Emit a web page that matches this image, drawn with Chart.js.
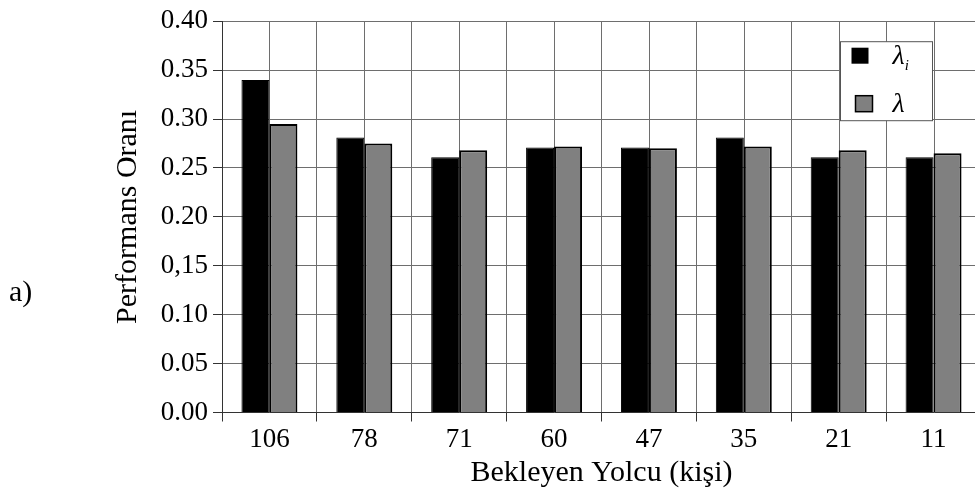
<!DOCTYPE html>
<html>
<head>
<meta charset="utf-8">
<script src="https://cdn.jsdelivr.net/npm/chart.js@4"></script>
<style>
  html, body { margin: 0; padding: 0; background: #fff; overflow: hidden; }
  #wrap { width: 975px; height: 491px; overflow: hidden; }
</style>
</head>
<body>
<div id="wrap"><canvas id="perf-chart" width="981" height="491"></canvas></div>
<script>
// waiting passengers per stop and the two performance ratios
const categories = ['106', '78', '71', '60', '47', '35', '21', '11'];
const lambdaI = [0.340, 0.281, 0.261, 0.271, 0.271, 0.281, 0.261, 0.261];
const lambdaAvg = [0.295, 0.275, 0.268, 0.272, 0.270, 0.272, 0.268, 0.265];
const yTickLabels = ['0.00', '0.05', '0.10', '0,15', '0.20', '0.25', '0.30', '0.35', '0.40'];

const xTitle = 'Bekleyen Yolcu (kişi)';
const yTitle = 'Performans Oranı';
const panelTag = 'a)';

const serif = '"Liberation Serif", "Times New Roman", serif';
const gridColor = '#6e6e6e';
const axisColor = '#333';

// extra vertical lines through the middle of every category
const centerLines = {
  id: 'centerLines',
  beforeDatasetsDraw(chart) {
    const { ctx, chartArea, scales } = chart;
    ctx.save();
    ctx.strokeStyle = gridColor;
    ctx.lineWidth = 1;
    categories.forEach((c, i) => {
      const x = Math.round(scales.x.getPixelForValue(i)) + 0.5;
      ctx.beginPath();
      ctx.moveTo(x, chartArea.top);
      ctx.lineTo(x, chartArea.bottom);
      ctx.stroke();
    });
    ctx.restore();
  }
};

// axis titles and the panel letter
const axisText = {
  id: 'axisText',
  afterDraw(chart) {
    const { ctx, chartArea } = chart;
    ctx.save();
    ctx.fillStyle = '#000';
    ctx.font = '30px ' + serif;
    ctx.textAlign = 'center';
    ctx.textBaseline = 'middle';
    ctx.fillText(xTitle, (chartArea.left + chartArea.right) / 2, 473);

    ctx.translate(128, (chartArea.top + chartArea.bottom) / 2);
    ctx.rotate(-Math.PI / 2);
    ctx.fillText(yTitle, 0, 0);
    ctx.restore();

    ctx.save();
    ctx.fillStyle = '#000';
    ctx.font = '30px ' + serif;
    ctx.textAlign = 'left';
    ctx.textBaseline = 'middle';
    ctx.fillText(panelTag, 9, 293);
    ctx.restore();
  }
};

// boxed legend inside the upper right of the plot
const boxLegend = {
  id: 'boxLegend',
  afterDraw(chart) {
    const { ctx, chartArea } = chart;
    const bx = 840.5, by = chartArea.top + 20.5, bw = 92, bh = 79;
    const swatchX = [11, 15];
    ctx.save();
    ctx.fillStyle = '#fff';
    ctx.fillRect(bx, by, bw, bh);
    ctx.strokeStyle = '#555';
    ctx.lineWidth = 1;
    ctx.strokeRect(bx, by, bw, bh);

    chart.data.datasets.forEach((ds, i) => {
      const cy = by + 14 + i * 48;
      const sx = bx + swatchX[i];
      ctx.fillStyle = ds.backgroundColor;
      ctx.fillRect(sx, cy - 8, 17, 16);
      if (ds.borderColor && ds.backgroundColor !== ds.borderColor) {
        ctx.strokeStyle = ds.borderColor;
        ctx.lineWidth = 1.5;
        ctx.strokeRect(sx, cy - 8, 17, 16);
      }
      ctx.fillStyle = '#000';
      ctx.textBaseline = 'middle';
      ctx.textAlign = 'left';
      ctx.font = 'italic 28px ' + serif;
      ctx.fillText(ds.label[0], bx + 52, cy + 1);
      if (ds.label.length > 1) {
        const w = ctx.measureText(ds.label[0]).width;
        ctx.font = 'italic 15px ' + serif;
        ctx.fillText(ds.label.slice(1), bx + 52 + w, cy + 10);
      }
    });
    ctx.restore();
  }
};

new Chart(document.getElementById('perf-chart'), {
  type: 'bar',
  data: {
    labels: categories,
    datasets: [{
      label: 'λi',
      data: lambdaI,
      backgroundColor: '#000',
      borderColor: '#000',
      borderWidth: 1
    }, {
      label: 'λ',
      data: lambdaAvg,
      backgroundColor: '#808080',
      borderColor: '#000',
      borderWidth: 2
    }]
  },
  options: {
    responsive: false,
    animation: false,
    categoryPercentage: 0.59,
    barPercentage: 1.0,
    layout: { padding: { top: 17, left: 0, right: 0, bottom: 0 } },
    plugins: {
      legend: { display: false },
      tooltip: { enabled: false }
    },
    scales: {
      x: {
        afterFit(scale) { scale.height = 78.5; },
        grid: { color: gridColor, tickColor: axisColor, tickLength: 9, offset: true },
        border: { color: axisColor, width: 1 },
        ticks: { color: '#000', font: { family: serif, size: 27 }, padding: 2, maxRotation: 0 }
      },
      y: {
        min: 0,
        max: 0.4,
        afterFit(scale) { scale.width = 222; },
        grid: { color: gridColor, tickColor: axisColor, tickLength: 9 },
        border: { color: axisColor, width: 1 },
        ticks: {
          stepSize: 0.05,
          color: '#000',
          font: { family: serif, size: 27 },
          padding: 5,
          callback: (value, index) => yTickLabels[index]
        }
      }
    }
  },
  plugins: [centerLines, axisText, boxLegend]
});
</script>
</body>
</html>
